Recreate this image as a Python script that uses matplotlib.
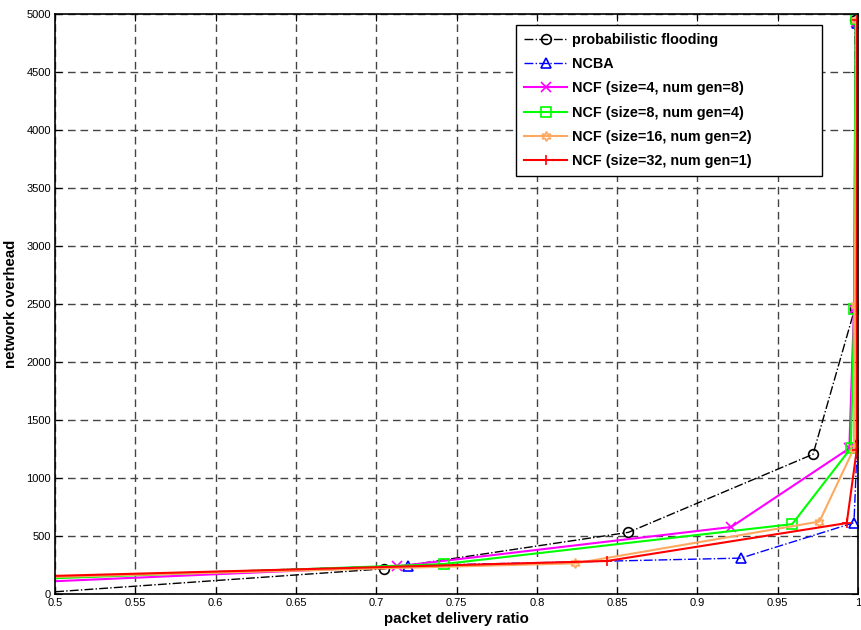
import numpy as np
import matplotlib
matplotlib.use('Agg')
import matplotlib.pyplot as plt

plt.rcParams['font.family'] = ['Liberation Sans', 'DejaVu Sans']

# Data (first point of each curve sits at the left axis edge)
pf_x = [0.5, 0.705, 0.857, 0.972, 0.998, 0.998]
pf_y = [20, 218, 532, 1205, 2460, 4950]

ncba_x = [0.5, 0.72, 0.927, 0.9975, 0.9995, 0.9992]
ncba_y = [150, 245, 310, 615, 1290, 4920]

ncf4_x = [0.5, 0.713, 0.921, 0.9946, 0.9975, 0.9985]
ncf4_y = [111, 239, 578, 1256, 2460, 4930]

ncf8_x = [0.5, 0.742, 0.959, 0.9955, 0.9977, 0.9985]
ncf8_y = [137, 259, 603, 1256, 2455, 4960]

ncf16_x = [0.5, 0.824, 0.976, 0.9975, 0.998, 0.999]
ncf16_y = [148, 265, 625, 1256, 2490, 4950]

ncf32_x = [0.5, 0.8435, 0.993, 0.9992, 0.9994]
ncf32_y = [157, 285, 612, 1240, 4950]

labels = ['probabilistic flooding', 'NCBA',
          'NCF (size=4, num gen=8)', 'NCF (size=8, num gen=4)',
          'NCF (size=16, num gen=2)', 'NCF (size=32, num gen=1)']

fig = plt.figure(figsize=(8.61, 6.3), dpi=100)
ax = fig.add_axes([0.064, 0.057, 0.9325, 0.921])

hexagram = (6, 1, 0)

series = [
    (pf_x, pf_y, 'k', '-.', 'o', 1.0),
    (ncba_x, ncba_y, '#0000FF', '-.', '^', 1.0),
    (ncf4_x, ncf4_y, '#FF00FF', '-', 'x', 1.5),
    (ncf8_x, ncf8_y, '#00FF00', '-', 's', 1.5),
    (ncf16_x, ncf16_y, '#FFA860', '-', hexagram, 1.5),
    (ncf32_x, ncf32_y, '#FF0000', '-', '+', 1.5),
]

for (x, y, c, ls, m, lw), lab in zip(series, labels):
    ax.plot(x, y, color=c, linestyle=ls, marker=m, lw=lw, markersize=7,
            markerfacecolor='none', markeredgecolor=c, markeredgewidth=1.2,
            markevery=list(range(1, len(x))), label=lab)

ax.set_xlim(0.5, 1)
ax.set_ylim(0, 5000)
ax.set_xticks(np.arange(0.5, 1.001, 0.05))
ax.set_xticklabels(['0.5', '0.55', '0.6', '0.65', '0.7', '0.75', '0.8',
                    '0.85', '0.9', '0.95', '1'])
ax.set_yticks(np.arange(0, 5001, 500))
ax.tick_params(direction='in', top=True, right=True, labelsize=8, length=5, pad=3)
ax.grid(True, color='#444444', linestyle=(0, (5.5, 3.5)), linewidth=1.0)
for sp in ax.spines.values():
    sp.set_linewidth(1.2)

ax.set_xlabel('packet delivery ratio', fontsize=10.8, fontweight='bold', labelpad=3)
ax.set_ylabel('network overhead', fontsize=10.8, fontweight='bold', labelpad=6)

# MATLAB-style legend box: wider than its text, text left-aligned
leg = ax.legend(loc='upper left', bbox_to_anchor=(0.574, 0.5, 0.381, 0.481),
                mode='expand', borderaxespad=0,
                prop={'weight': 'bold', 'size': 10.4}, fancybox=False,
                framealpha=1, edgecolor='black', borderpad=0.55,
                handlelength=3.0, handletextpad=0.35, labelspacing=0.71)
leg.get_frame().set_linewidth(1.0)

fig.savefig('out.png', dpi=100)
